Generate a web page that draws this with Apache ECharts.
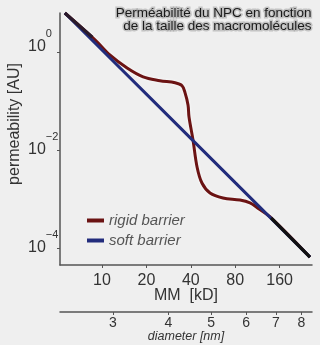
<!DOCTYPE html>
<html><head><meta charset="utf-8">
<script src="https://cdn.jsdelivr.net/npm/echarts@6/dist/echarts.min.js"></script>
<style>html,body{margin:0;padding:0;background:#efefef;}#c{width:320px;height:345px;}</style>
</head><body><div id="c"></div>
<script>
// ---- data ----
const rigidMM   = [5.6, 9.0, 11.3, 14.8, 19.0, 24.7, 31.3, 34.9, 36.5, 38.3, 38.9, 41.4, 44.1, 47.6, 54.0, 66.1, 86.2, 100.8, 114, 138, 257];
const rigidPerm = [6.25, 1.75, 0.87, 0.47, 0.31, 0.26, 0.235, 0.205, 0.150, 0.083, 0.047, 0.016, 0.0045, 0.00212, 0.00133, 0.00105, 0.00095, 0.00083, 0.00065, 0.00043, 0.000065];
const softMM    = [5.6, 10, 20, 40, 80, 160, 257];
const softPerm  = [6.25, 1.10, 0.138, 0.0173, 0.00216, 0.00027, 0.000065];
const overlapStartMM = [5.6, 8.6];
const overlapStartPerm = [6.25, 2.0];
const overlapEndMM = [140, 257];
const overlapEndPerm = [0.00041, 0.000065];
const mmTicks = [10, 20, 40, 80, 160];
const diamTicks = [3, 4, 5, 6, 7, 8];
const permExpTicks = [0, -2, -4];
const seriesNames = ['rigid barrier', 'soft barrier'];
const titleLines = ['Perméabilité du NPC en fonction', 'de la taille des macromolécules'];
const xName = 'MM  [kD]';
const x2Name = 'diameter [nm]';
const yName = 'permeability [AU]';

// ---- scales ----
const L = Math.log10;
const xMin = 0.7153, xMax = 2.4237;      // log10(MM) extent
const logC = 0.1189;                     // diameter = C * MM^(1/3)
const dMin = logC + xMin / 3, dMax = logC + xMax / 3;
const pts = (xs, ys) => xs.map((x, i) => [L(x), L(ys[i])]);

const FONT = 'Liberation Sans, Arial, sans-serif';
const axisCol = '#555';
const textCol = '#333';
const RED = '#6b1313', BLUE = '#222c7c';

const chart = echarts.init(document.getElementById('c'));
chart.setOption({
  backgroundColor: '#efefef',
  animation: false,
  textStyle: { fontFamily: FONT },
  grid: { left: 60, right: 8, top: 13, bottom: 80, containLabel: false, outerBoundsMode: 'none' },
  legend: {
    data: seriesNames, orient: 'vertical', left: 82, top: 208, itemGap: 5,
    itemWidth: 17, itemHeight: 4, icon: 'rect',
    textStyle: { fontStyle: 'italic', fontSize: 15, color: '#555', fontFamily: FONT }
  },
  xAxis: [{
    type: 'value', min: xMin, max: xMax, position: 'bottom',
    axisLine: { show: true, onZero: false, lineStyle: { color: axisCol, width: 1.5 } },
    axisTick: { show: true, length: 3, customValues: mmTicks.map(L), lineStyle: { color: axisCol } },
    axisLabel: { customValues: mmTicks.map(L), margin: 8, fontSize: 16, color: textCol,
      formatter: v => String(Math.round(Math.pow(10, v))) },
    splitLine: { show: false },
    name: xName, nameLocation: 'middle', nameGap: 23, nameMoveOverlap: false,
    nameTextStyle: { fontSize: 16, color: textCol }
  }, {
    type: 'value', min: dMin, max: dMax, position: 'bottom', offset: 47,
    axisLine: { show: true, onZero: false, lineStyle: { color: axisCol, width: 1.5 } },
    axisTick: { show: true, length: 3, customValues: diamTicks.map(L), lineStyle: { color: axisCol } },
    axisLabel: { customValues: diamTicks.map(L), margin: 4, fontSize: 14, color: textCol,
      formatter: v => String(Math.round(Math.pow(10, v))) },
    splitLine: { show: false },
    name: x2Name, nameLocation: 'middle', nameGap: 18, nameMoveOverlap: false,
    nameTextStyle: { fontSize: 12.5, fontStyle: 'italic', color: textCol }
  }],
  yAxis: {
    type: 'value', min: -4.347, max: 0.796,
    axisLine: { show: true, lineStyle: { color: axisCol, width: 1.5 } },
    axisTick: { show: true, length: 3, customValues: permExpTicks, lineStyle: { color: axisCol } },
    axisLabel: {
      customValues: permExpTicks, align: 'left', margin: 32, color: textCol,
      formatter: v => {
        const e = Math.round(v);
        if (e === 0) return '{b0|10}{s0|0}';
        return '{b|10}{s|\u2212' + Math.abs(e) + '}';
      },
      rich: {
        b: { fontSize: 16, color: textCol, verticalAlign: 'middle' },
        s: { fontSize: 11, color: textCol, lineHeight: 11, padding: [0, 0, 26, 0], verticalAlign: 'middle' },
        b0: { fontSize: 16, color: textCol, lineHeight: 16, padding: [0, 0, 10, 0], verticalAlign: 'middle' },
        s0: { fontSize: 11, color: textCol, lineHeight: 11, padding: [0, 0, 36, 0], verticalAlign: 'middle' }
      }
    },
    splitLine: { show: false }
  },
  graphic: [{
    type: 'text',
    x: 15, y: 124, rotation: Math.PI / 2,
    style: { text: yName, fill: textCol, font: '16px ' + FONT, textAlign: 'center', textVerticalAlign: 'middle' }
  }, {
    type: 'text', right: 7, top: 5,
    style: {
      text: titleLines.join('\n'), font: '13.5px ' + FONT, fill: '#1a1a1a', textAlign: 'right', lineHeight: 13,
      stroke: 'rgba(160,160,160,0.55)', lineWidth: 3,
      shadowColor: 'rgba(130,130,130,0.8)', shadowBlur: 3
    }
  }],
  series: [{
    name: seriesNames[0], type: 'line', data: pts(rigidMM, rigidPerm), smooth: 0.35,
    showSymbol: false, symbol: 'none', clip: false, color: RED,
    lineStyle: { color: RED, width: 3, shadowColor: 'rgba(255,255,255,0.95)', shadowBlur: 3 }
  }, {
    name: seriesNames[1], type: 'line', data: pts(softMM, softPerm),
    showSymbol: false, symbol: 'none', clip: false, color: BLUE,
    lineStyle: { color: BLUE, width: 3 }
  }, {
    name: 'overlap-start', type: 'line', data: pts(overlapStartMM, overlapStartPerm),
    showSymbol: false, symbol: 'none', clip: false, color: '#2a1a2a',
    lineStyle: { color: '#2a1a2a', width: 3.2 }
  }, {
    name: 'overlap-end', type: 'line', data: pts(overlapEndMM, overlapEndPerm),
    showSymbol: false, symbol: 'none', clip: false, color: '#111',
    lineStyle: { color: '#111', width: 3.2 }
  }]
});
</script></body></html>
